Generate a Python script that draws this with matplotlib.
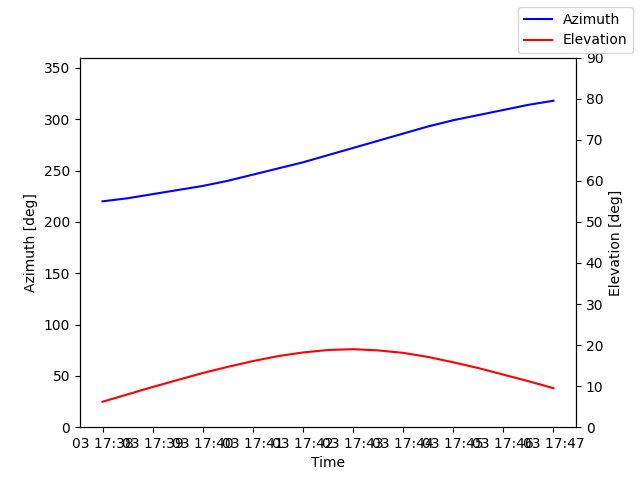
import pandas as pd
import matplotlib
matplotlib.use('Agg')
import matplotlib.pyplot as plt
import matplotlib.dates as mdates

times = pd.date_range('2023-01-03 17:38', '2023-01-03 17:47', freq='30s')
azimuth = [220, 223, 227, 231, 235, 240, 246, 252, 258, 265, 272, 279,
           286, 293, 299, 304, 309, 314, 318]
elevation = [6.2, 8.0, 9.8, 11.5, 13.2, 14.7, 16.1, 17.3, 18.2, 18.8, 19.0,
             18.7, 18.1, 17.1, 15.8, 14.4, 12.8, 11.2, 9.5]

fig, ax = plt.subplots(figsize=(6.4, 4.8))
ax.plot(times, azimuth, 'b-', label='Azimuth')
ax.set_ylim(0, 360)
ax.set_ylabel('Azimuth [deg]')
ax.set_xlabel('Time')
ax2 = ax.twinx()
ax2.plot(times, elevation, 'r-', label='Elevation')
ax2.set_ylim(0, 90)
ax2.set_ylabel('Elevation [deg]')
ax.xaxis.set_major_locator(mdates.MinuteLocator())
ax.xaxis.set_major_formatter(mdates.DateFormatter('%d %H:%M'))
fig.legend(loc='upper right')
fig.savefig('out.png', dpi=100)
